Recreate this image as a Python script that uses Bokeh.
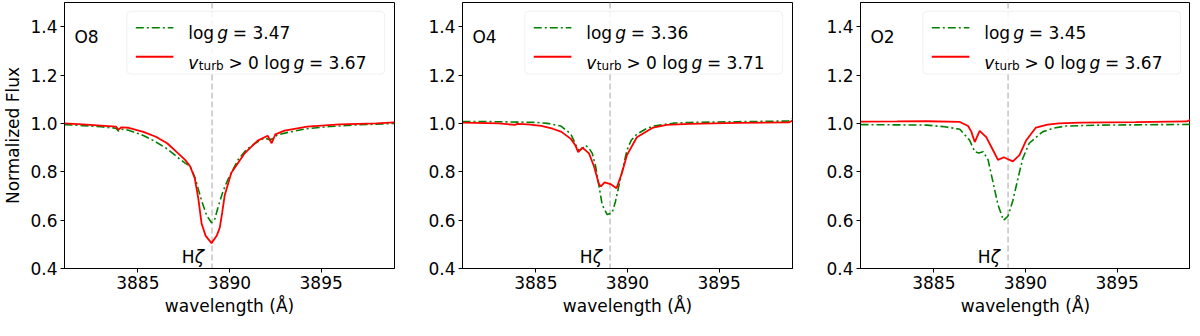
from bokeh.plotting import figure
from bokeh.models import (Range1d, FixedTicker, PrintfTickFormatter, Span, Label,
                          BoxAnnotation)
from bokeh.layouts import row
from bokeh.embed import file_html
from bokeh.resources import INLINE

# ---------------- data ----------------
panel_tags = ["O8", "O4", "O2"]
logg_plain = ["3.47", "3.36", "3.45"]
logg_turb = ["3.67", "3.71", "3.67"]
line_center = 3889.05

x_ticks = [3885, 3890, 3895]
y_ticks = [0.4, 0.6, 0.8, 1.0, 1.2, 1.4]

# O8
wl_o8_g = [3881.0, 3882.0, 3883.0, 3883.8, 3883.95, 3884.1, 3884.5, 3885.3, 3885.95, 3886.6,
           3887.2, 3887.58, 3887.85, 3888.12, 3888.48, 3888.75, 3889.02, 3889.2, 3889.38,
           3889.65, 3889.92, 3890.46, 3890.9, 3891.36, 3891.9, 3892.2, 3892.35, 3892.6,
           3893.2, 3894.2, 3895.5, 3897.0, 3899.0]
fl_o8_g = [0.995, 0.991, 0.986, 0.980, 0.968, 0.976, 0.972, 0.950, 0.925, 0.895,
           0.858, 0.836, 0.823, 0.775, 0.680, 0.620, 0.589, 0.605, 0.655,
           0.720, 0.769, 0.849, 0.890, 0.916, 0.940, 0.933, 0.936, 0.952,
           0.963, 0.978, 0.987, 0.994, 1.000]
wl_o8_r = [3881.0, 3882.0, 3883.0, 3883.8, 3883.95, 3884.1, 3884.5, 3885.3, 3885.95, 3886.1,
           3886.6, 3887.2, 3887.58, 3887.85, 3888.1, 3888.3, 3888.48, 3888.7, 3889.02,
           3889.3, 3889.47, 3889.6, 3889.74, 3890.1, 3890.82, 3891.54, 3892.08, 3892.3,
           3892.5, 3893.0, 3894.24, 3896.0, 3898.0, 3899.0]
fl_o8_r = [1.000, 0.996, 0.991, 0.987, 0.974, 0.984, 0.982, 0.965, 0.946, 0.940,
           0.918, 0.876, 0.849, 0.823, 0.775, 0.689, 0.585, 0.535, 0.505,
           0.535, 0.569, 0.630, 0.703, 0.796, 0.876, 0.929, 0.949, 0.918,
           0.955, 0.970, 0.987, 0.996, 1.000, 1.004]

# O4
wl_o4_g = [3881.0, 3883.0, 3885.0, 3885.65, 3886.37, 3886.91, 3887.1, 3887.27, 3887.38,
           3887.55, 3887.72, 3887.9, 3888.08, 3888.26, 3888.44, 3888.62, 3888.89, 3889.16,
           3889.34, 3889.61, 3889.97, 3890.2, 3890.51, 3891.0, 3891.4, 3892.5, 3893.4,
           3896.0, 3898.8, 3899.0]
fl_o4_g = [1.008, 1.007, 1.004, 1.000, 0.989, 0.956, 0.925, 0.896, 0.887,
           0.898, 0.909, 0.897, 0.876, 0.823, 0.743, 0.663, 0.623, 0.630,
           0.676, 0.769, 0.889, 0.930, 0.956, 0.977, 0.989, 1.001, 1.004,
           1.007, 1.010, 1.020]
wl_o4_r = [3881.0, 3883.0, 3883.85, 3884.0, 3884.57, 3885.3, 3885.92, 3886.4, 3886.91,
           3887.15, 3887.31, 3887.54, 3887.9, 3888.17, 3888.44, 3888.55, 3888.75, 3889.07,
           3889.4, 3889.7, 3889.97, 3890.51, 3891.4, 3892.14, 3893.4, 3896.0, 3898.8, 3899.0]
fl_o4_r = [1.003, 1.000, 0.994, 0.998, 0.996, 0.990, 0.978, 0.965, 0.936,
           0.910, 0.881, 0.900, 0.876, 0.823, 0.749, 0.740, 0.756, 0.749,
           0.732, 0.796, 0.869, 0.943, 0.983, 0.994, 0.998, 1.002, 1.004, 1.012]

# O2
wl_o2_g = [3881.0, 3883.0, 3884.62, 3885.6, 3886.42, 3886.96, 3887.23, 3887.45, 3887.69,
           3887.96, 3888.23, 3888.5, 3888.8, 3889.04, 3889.31, 3889.58, 3889.85, 3890.2,
           3890.93, 3891.5, 3892.19, 3894.0, 3896.0, 3899.0]
fl_o2_g = [0.995, 0.994, 0.993, 0.986, 0.976, 0.929, 0.883, 0.878, 0.883,
           0.849, 0.756, 0.663, 0.599, 0.616, 0.680, 0.770, 0.855, 0.918,
           0.965, 0.980, 0.989, 0.993, 0.994, 0.996]
wl_o2_r = [3881.0, 3883.0, 3884.62, 3886.42, 3886.87, 3887.05, 3887.23, 3887.5, 3887.86,
           3888.23, 3888.5, 3888.82, 3889.05, 3889.31, 3889.67, 3890.03, 3890.57, 3891.2,
           3891.83, 3893.0, 3896.0, 3898.8, 3899.0]
fl_o2_r = [1.007, 1.008, 1.009, 1.006, 0.989, 0.965, 0.923, 0.969, 0.943,
           0.889, 0.849, 0.860, 0.852, 0.843, 0.869, 0.929, 0.983, 0.995,
           1.000, 1.003, 1.005, 1.008, 1.015]

series = [
    (wl_o8_g, fl_o8_g, wl_o8_r, fl_o8_r),
    (wl_o4_g, fl_o4_g, wl_o4_r, fl_o4_r),
    (wl_o2_g, fl_o2_g, wl_o2_r, fl_o2_r),
]

# ---------------- styling / layout ----------------
FONT = "DejaVu Sans"
FS = 17
FSPX = f"{FS}px"
X0, X1 = 3881.0, 3899.0
Y0, Y1 = 0.4, 1.5
GREEN = "#008000"
RED = "#ff0000"


def fx(f):
    return X0 + f * (X1 - X0)


def fy(f):  # fraction measured from top of frame
    return Y1 - f * (Y1 - Y0)


def text(p, x, y, s, x_offset=0, style="normal", size=FSPX, align="left"):
    p.add_layout(Label(x=x, y=y, text=s, x_offset=x_offset, text_font=FONT,
                       text_font_size=size, text_font_style=style, text_color="black",
                       text_baseline="alphabetic", text_align=align, level="overlay"))


def make_panel(i, border_left, border_right, ylabel):
    wg, fg, wr, fr = series[i]
    p = figure(frame_width=330, frame_height=266, output_backend="svg",
               toolbar_location=None, x_range=Range1d(X0, X1), y_range=Range1d(Y0, Y1),
               min_border_left=border_left, min_border_right=border_right,
               min_border_top=2, min_border_bottom=51)
    p.background_fill_color = "white"
    p.border_fill_color = "white"
    p.outline_line_color = "black"
    p.outline_line_width = 1
    p.xgrid.visible = False
    p.ygrid.visible = False

    for ax in (p.xaxis[0], p.yaxis[0]):
        ax.axis_line_color = "black"
        ax.major_tick_line_color = "black"
        ax.major_tick_out = 4
        ax.major_tick_in = 0
        ax.minor_tick_line_color = None
        ax.major_label_text_font = FONT
        ax.major_label_text_font_size = FSPX
        ax.major_label_text_color = "black"
        ax.major_label_standoff = 3
        ax.axis_label_text_font = FONT
        ax.axis_label_text_font_size = FSPX
        ax.axis_label_text_font_style = "normal"
        ax.axis_label_text_color = "black"
        ax.axis_label_standoff = 4
    p.xaxis[0].ticker = FixedTicker(ticks=x_ticks)
    p.xaxis[0].formatter = PrintfTickFormatter(format="%d")
    p.yaxis[0].ticker = FixedTicker(ticks=y_ticks)
    p.yaxis[0].formatter = PrintfTickFormatter(format="%.1f")
    p.xaxis[0].axis_label = "wavelength (Å)"
    if ylabel:
        p.yaxis[0].axis_label = "Normalized Flux"

    p.add_layout(Span(location=line_center, dimension="height", line_color="#c4c4c4",
                      line_width=1.5, line_dash="6 3", level="underlay"))

    p.line(wg, fg, line_color=GREEN, line_width=1.6, line_dash="8 3 2 3")
    p.line(wr, fr, line_color=RED, line_width=1.8)

    # panel tag and line label
    text(p, fx(0.03), fy(0.131), panel_tags[i])
    text(p, 3887.4, 0.449, "H")
    text(p, 3887.4, 0.449, "ζ", x_offset=12.8, style="italic")

    # legend
    p.add_layout(BoxAnnotation(left=fx(0.189), right=fx(0.970), top=fy(0.033),
                               bottom=fy(0.269), fill_color="white", fill_alpha=0.85,
                               line_color="#cccccc", line_width=1, border_radius=4,
                               level="guide"))
    p.line([fx(0.216), fx(0.330)], [fy(0.095), fy(0.095)], line_color=GREEN,
           line_width=1.6, line_dash="8 3 2 3", level="annotation")
    p.line([fx(0.216), fx(0.330)], [fy(0.204), fy(0.204)], line_color=RED,
           line_width=1.8, level="annotation")
    tx = fx(0.375)
    b1, b2 = fy(0.113), fy(0.228)
    text(p, tx, b1, "log")
    text(p, tx, b1, "g", x_offset=29.1, style="italic")
    text(p, tx, b1, "= " + logg_plain[i], x_offset=44.6)

    text(p, tx, b2, "v", style="italic")
    text(p, tx, b2 - 0.012, "turb", x_offset=10.6, size="12px")
    text(p, tx, b2, "> 0 log", x_offset=40.2)
    text(p, tx, b2, "g", x_offset=105.2, style="italic")
    text(p, tx, b2, "= " + logg_turb[i], x_offset=120.7)
    return p


p1 = make_panel(0, 58, 5, True)
p2 = make_panel(1, 63, 5, False)
p3 = make_panel(2, 63, 0, False)

layout = row(p1, p2, p3)
open("out.html", "w").write(file_html(layout, INLINE))
